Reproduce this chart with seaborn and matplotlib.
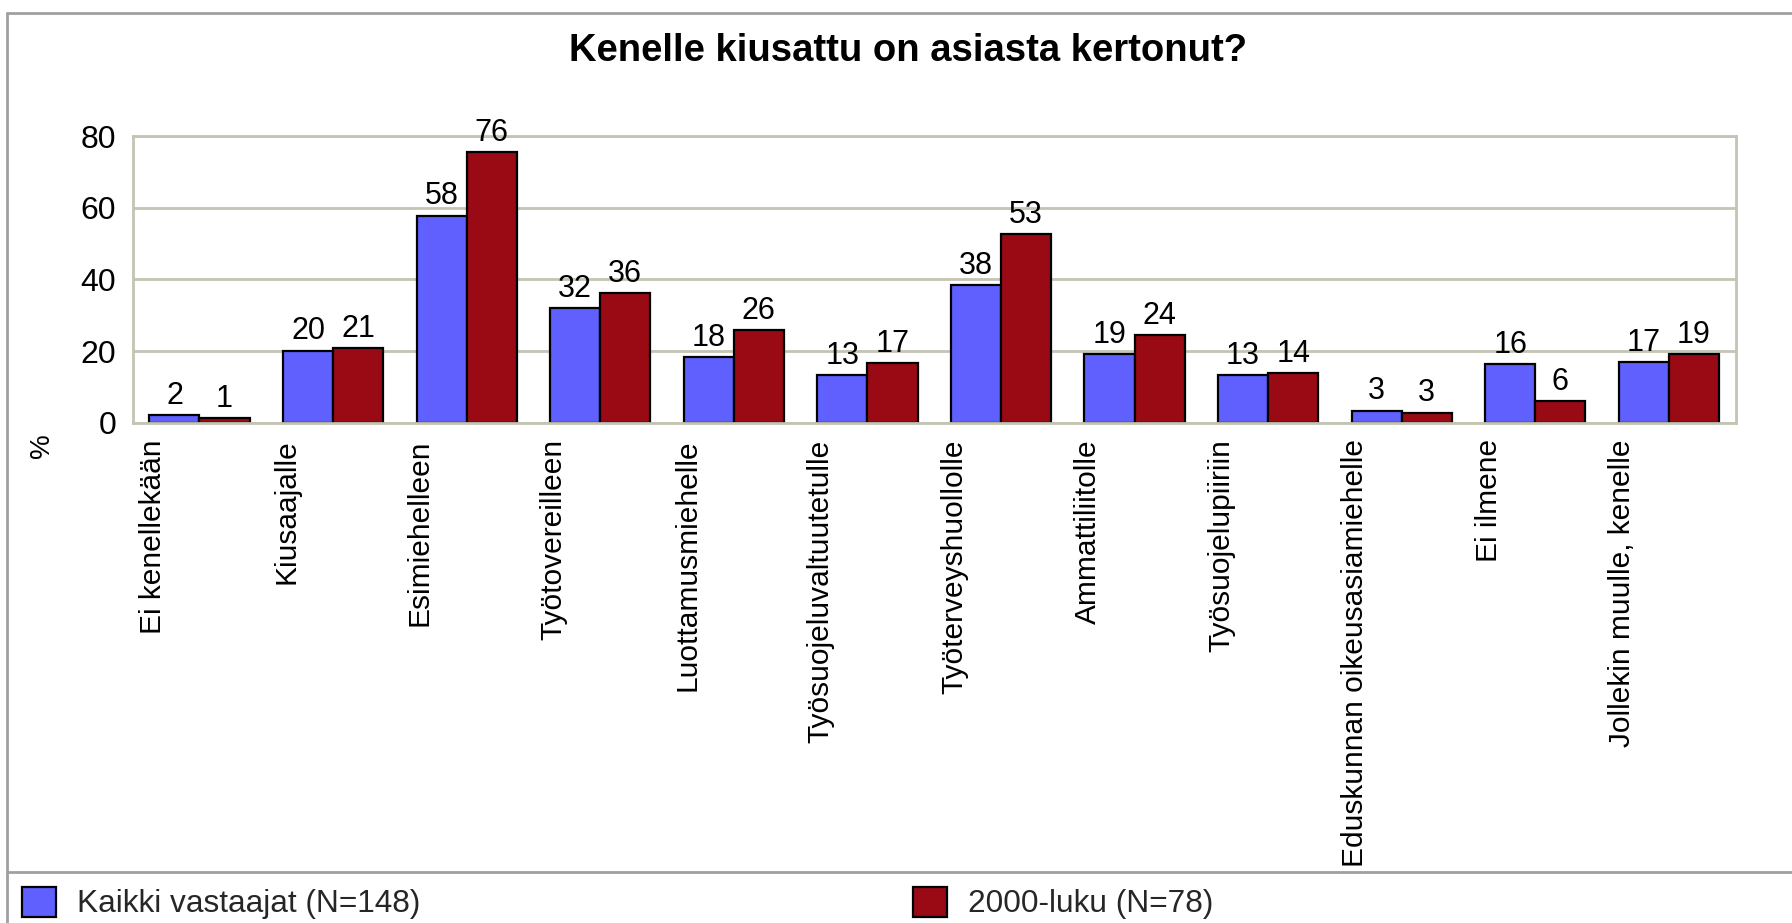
import matplotlib
matplotlib.use("Agg")
import matplotlib.pyplot as plt
import seaborn as sns
import pandas as pd
from matplotlib.lines import Line2D

categories = [
    "Ei kenellekään", "Kiusaajalle", "Esimiehelleen", "Työtovereilleen",
    "Luottamusmiehelle", "Työsuojeluvaltuutetulle", "Työterveyshuollolle",
    "Ammattiliitolle", "Työsuojelupiiriin", "Eduskunnan oikeusasiamiehelle",
    "Ei ilmene", "Jollekin muulle, kenelle",
]
series_names = ["Kaikki vastaajat (N=148)", "2000-luku (N=78)"]
kaikki = [2.1, 20.1, 57.8, 31.9, 18.4, 13.3, 38.4, 19.2, 13.3, 3.4, 16.4, 17.0]
luku2000 = [1.4, 20.9, 75.6, 36.1, 25.9, 16.6, 52.6, 24.4, 13.8, 2.8, 6.1, 19.2]
colors = ["#6060ff", "#990a14"]

W, H = 1792, 923
GRID = "#c4c4b4"
INK = "#000000"

df = pd.DataFrame({
    "category": categories * 2,
    "series": [series_names[0]] * len(categories) + [series_names[1]] * len(categories),
    "value": kaikki + luku2000,
})

sns.set_style("white")
plt.rcParams["font.family"] = ["Liberation Sans", "DejaVu Sans"]

fig = plt.figure(figsize=(W / 100, H / 100), dpi=100)
ax = fig.add_axes([132.7 / W, 1 - 422.7 / H, (1735.7 - 132.7) / W, (422.7 - 136) / H])

sns.barplot(data=df, x="category", y="value", hue="series", order=categories,
            hue_order=series_names, palette=dict(zip(series_names, colors)),
            saturation=1, width=0.75, edgecolor="black", linewidth=1.6, ax=ax)

# value labels
for container in ax.containers:
    ax.bar_label(container, labels=[f"{b.get_height():.0f}" for b in container],
                 fontsize=22, padding=3, color=INK)

ax.set_ylim(0, 80)
ax.set_xlim(-0.5, len(categories) - 0.5)
ax.set_yticks([0, 20, 40, 60, 80])
ax.tick_params(axis="y", length=0, pad=12, labelsize=23, labelcolor=INK)
ax.set_xticks([i - 0.35 for i in range(len(categories))])
ax.set_xticklabels(categories, rotation=90, va="top", ha="center", fontsize=21.5, color=INK)
ax.tick_params(axis="x", length=0, pad=12)
ax.set_xlabel("")
ax.set_ylabel("")
ax.yaxis.grid(True, color=GRID, linewidth=2)
ax.set_axisbelow(True)
for sp in ax.spines.values():
    sp.set_visible(True)
    sp.set_color(GRID)
    sp.set_linewidth(2)

fig.text(908 / W, 1 - 51 / H, "Kenelle kiusattu on asiasta kertonut?",
         ha="center", va="center", fontsize=27.5, fontweight="bold", color=INK)
fig.text(42 / W, 1 - 446 / H, "%", rotation=90, ha="center", va="center",
         fontsize=20, color=INK)

# frame and legend separator
fig.add_artist(Line2D([7 / W, 7 / W], [0, 1 - 13 / H], transform=fig.transFigure, color="#a0a0a0", lw=2))
fig.add_artist(Line2D([7 / W, 1], [1 - 13 / H, 1 - 13 / H], transform=fig.transFigure, color="#a0a0a0", lw=2))
fig.add_artist(Line2D([7 / W, 1], [1 - 872 / H, 1 - 872 / H], transform=fig.transFigure, color="#a0a0a0", lw=2))

sns.move_legend(ax, "center left", bbox_to_anchor=(22 / W, 1 - 903 / H),
                bbox_transform=fig.transFigure, ncol=2, frameon=False, title=None,
                fontsize=22.8, handlelength=1.08, handleheight=1.08, handletextpad=0.66,
                columnspacing=15.55, borderaxespad=0, borderpad=0)

fig.savefig("out.png", dpi=100, facecolor="white")
